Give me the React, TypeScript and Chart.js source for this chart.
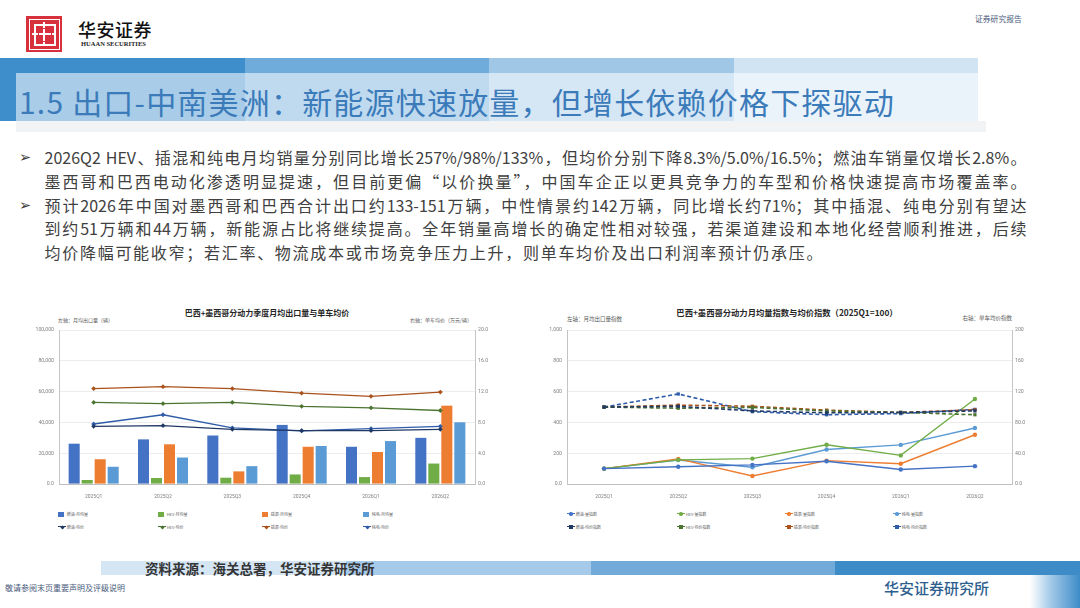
import React, { useEffect, useRef } from 'react';
import { Chart, registerables } from 'chart.js';

Chart.register(...registerables);

// ---------------- data ----------------
const categories = ['2025Q1', '2025Q2', '2025Q3', '2025Q4', '2026Q1', '2026Q2'];

// left chart: monthly average export volume (辆)
const iceVolume = [26200, 29000, 31500, 38400, 24200, 30000];
const hevVolume = [2600, 3900, 4100, 6200, 4500, 13300];
const phevVolume = [16100, 25800, 8200, 24200, 20800, 50900];
const bevVolume = [11200, 17200, 11600, 24700, 27900, 40100];
// left chart: average price per vehicle (万元/辆)
const icePrice = [7.5, 7.6, 7.1, 6.95, 6.95, 7.1];
const hevPrice = [10.6, 10.45, 10.6, 10.1, 9.9, 9.55];
const phevPrice = [12.4, 12.65, 12.4, 11.8, 11.4, 11.95];
const bevPrice = [7.8, 9.0, 7.3, 6.9, 7.2, 7.5];

const leftTicksL = ['0.0', '20,000', '40,000', '60,000', '80,000', '100,000'];
const leftTicksR = ['0.0', '4.0', '8.0', '12.0', '16.0', '20.0'];
const leftLabels = ['燃油-月均量', 'HEV-月均量', '插混-月均量', '纯电-月均量', '燃油-均价', 'HEV-均价', '插混-均价', '纯电-均价'];

// right chart: indices (2025Q1 = 100)
const iceVolIdx = [100, 112, 124, 148, 94, 116];
const hevVolIdx = [100, 157, 165, 255, 186, 552];
const phevVolIdx = [100, 163, 52, 152, 132, 320];
const bevVolIdx = [100, 156, 109, 224, 254, 364];
const icePriceIdx = [100, 101, 95, 92.5, 93, 95];
const hevPriceIdx = [100, 98.5, 99.5, 95, 93, 90];
const phevPriceIdx = [100, 102.5, 101, 96, 93, 96.5];
const bevPriceIdx = [100, 117, 94, 90, 91.5, 97];

const rightTicksL = ['0.0', '200', '400', '600', '800', '1,000'];
const rightTicksR = ['0.0', '40.0', '80.0', '120', '160', '200'];
const rightLabels = ['燃油-量指数', 'HEV-量指数', '插混-量指数', '纯电-量指数', '燃油-均价指数', 'HEV-均价指数', '插混-均价指数', '纯电-均价指数'];

const bodyLines = [
  '2026Q2 HEV、插混和纯电月均销量分别同比增长257%/98%/133%，但均价分别下降8.3%/5.0%/16.5%；燃油车销量仅增长2.8%。',
  '墨西哥和巴西电动化渗透明显提速，但目前更偏“以价换量”，中国车企正以更具竞争力的车型和价格快速提高市场覆盖率。',
  '预计2026年中国对墨西哥和巴西合计出口约133-151万辆，中性情景约142万辆，同比增长约71%；其中插混、纯电分别有望达',
  '到约51万辆和44万辆，新能源占比将继续提高。全年销量高增长的确定性相对较强，若渠道建设和本地化经营顺利推进，后续',
  '均价降幅可能收窄；若汇率、物流成本或市场竞争压力上升，则单车均价及出口利润率预计仍承压。',
];

// ---------------- styles ----------------
const FONT = '"Noto Sans CJK SC", "Noto Sans", sans-serif';
const TICK_FONT = 'Roboto, "Noto Sans CJK SC", sans-serif';
const C = {
  ice: '#4472C4',
  hev: '#70AD47',
  phev: '#ED7D31',
  bev: '#5B9BD5',
  iceP: '#203864',
  hevP: '#4B7431',
  phevP: '#A9521C',
  bevP: '#2F5CA8',
};
const leftColors = [C.ice, C.hev, C.phev, C.bev, C.iceP, C.hevP, C.phevP, C.bevP];
const rightColors = [C.ice, C.hev, C.phev, C.bev, C.iceP, C.hevP, C.phevP, C.bevP];

const tickCb = (labels: string[], step: number) => (v: any) => labels[Math.round(Number(v) / step)] ?? '';

const tickStyle = { font: { family: TICK_FONT, size: 5.2 }, color: '#808080' };

function baseScales(
  lMax: number, lStep: number, lLabels: string[], lWidth: number,
  rMax: number, rStep: number, rLabels: string[], rWidth: number
): any {
  return {
    x: {
      grid: { display: false, drawTicks: false },
      border: { display: true, color: '#bfbfbf', width: 1 },
      ticks: { ...tickStyle, font: { family: TICK_FONT, size: 5 }, padding: 9.5, maxRotation: 0, autoSkip: false },
      afterFit: (s: any) => { s.height = 21; },
    },
    y: {
      position: 'left',
      min: 0,
      max: lMax,
      ticks: { ...tickStyle, stepSize: lStep, callback: tickCb(lLabels, lStep), padding: 5 },
      grid: { color: '#e8e8e8', lineWidth: 0.8, drawTicks: false },
      border: { display: true, color: '#c4c4c4', width: 1 },
      afterFit: (s: any) => { s.width = lWidth; },
    },
    y1: {
      position: 'right',
      min: 0,
      max: rMax,
      ticks: { ...tickStyle, stepSize: rStep, callback: tickCb(rLabels, rStep), padding: 3 },
      grid: { drawOnChartArea: false, drawTicks: false },
      border: { display: true, color: '#c4c4c4', width: 1 },
      afterFit: (s: any) => { s.width = rWidth; },
    },
  };
}

const commonOptions = {
  responsive: false,
  animation: false as const,
  layout: { padding: { top: 6, left: 0, right: 0, bottom: 0 } },
  plugins: { legend: { display: false }, tooltip: { enabled: false }, title: { display: false } },
};

function LeftChart() {
  const ref = useRef<HTMLCanvasElement>(null);
  useEffect(() => {
    const bar = (label: string, data: number[], color: string) => ({
      type: 'bar' as const, label, data, backgroundColor: color, yAxisID: 'y', order: 2,
      barPercentage: 0.85, categoryPercentage: 0.75,
    });
    const line = (label: string, data: number[], color: string) => ({
      type: 'line' as const, label, data, borderColor: color, backgroundColor: color, yAxisID: 'y1', order: 1,
      borderWidth: 1.3, pointStyle: 'rectRot', pointRadius: 2.4, pointBorderWidth: 0, tension: 0,
    });
    const chart = new Chart(ref.current as HTMLCanvasElement, {
      type: 'bar',
      data: {
        labels: categories,
        datasets: [
          bar(leftLabels[0], iceVolume, leftColors[0]),
          bar(leftLabels[1], hevVolume, leftColors[1]),
          bar(leftLabels[2], phevVolume, leftColors[2]),
          bar(leftLabels[3], bevVolume, leftColors[3]),
          line(leftLabels[4], icePrice, leftColors[4]),
          line(leftLabels[5], hevPrice, leftColors[5]),
          line(leftLabels[6], phevPrice, leftColors[6]),
          line(leftLabels[7], bevPrice, leftColors[7]),
        ] as any,
      },
      options: {
        ...commonOptions,
        scales: baseScales(100000, 20000, leftTicksL, 39, 20, 4, leftTicksR, 25),
      } as any,
    });
    return () => chart.destroy();
  }, []);
  return (
    <canvas ref={ref} width={480} height={183}
      style={{ position: 'absolute', left: 20, top: 322, width: 480, height: 183 }} />
  );
}

function RightChart() {
  const ref = useRef<HTMLCanvasElement>(null);
  useEffect(() => {
    const solid = (label: string, data: number[], color: string) => ({
      type: 'line' as const, label, data, borderColor: color, backgroundColor: color, yAxisID: 'y', order: 2,
      borderWidth: 1.4, pointStyle: 'circle', pointRadius: 2.2, pointBorderWidth: 0, tension: 0,
    });
    const dashed = (label: string, data: number[], color: string) => ({
      type: 'line' as const, label, data, borderColor: color, backgroundColor: color, yAxisID: 'y1', order: 1,
      borderWidth: 1.6, borderDash: [4, 2.5], pointStyle: 'rect', pointRadius: 2.3, pointBorderWidth: 0, tension: 0,
    });
    const chart = new Chart(ref.current as HTMLCanvasElement, {
      type: 'line',
      data: {
        labels: categories,
        datasets: [
          solid(rightLabels[0], iceVolIdx, rightColors[0]),
          solid(rightLabels[1], hevVolIdx, rightColors[1]),
          solid(rightLabels[2], phevVolIdx, rightColors[2]),
          solid(rightLabels[3], bevVolIdx, rightColors[3]),
          dashed(rightLabels[4], icePriceIdx, rightColors[4]),
          dashed(rightLabels[5], hevPriceIdx, rightColors[5]),
          dashed(rightLabels[6], phevPriceIdx, rightColors[6]),
          dashed(rightLabels[7], bevPriceIdx, rightColors[7]),
        ] as any,
      },
      options: {
        ...commonOptions,
        scales: (() => {
          const s = baseScales(1000, 200, rightTicksL, 37, 200, 40, rightTicksR, 28);
          s.x.offset = true;
          return s;
        })(),
      } as any,
    });
    return () => chart.destroy();
  }, []);
  return (
    <canvas ref={ref} width={510} height={183}
      style={{ position: 'absolute', left: 530, top: 322, width: 510, height: 183 }} />
  );
}

type Kind = 'bar' | 'line' | 'dash';
type Shape = 'diamond' | 'circle' | 'square';

function LegendItem({ x, y, label, color, kind, shape }: { x: number; y: number; label: string; color: string; kind: Kind; shape: Shape }) {
  const marker: React.ReactNode[] = [];
  if (kind === 'bar') {
    marker.push(<div key="b" style={{ position: 'absolute', left: x, top: y - 2.5, width: 6, height: 5, background: color }} />);
  } else {
    marker.push(
      <div key="l" style={{
        position: 'absolute', left: x, top: y - 0.7, width: 8, height: 0,
        borderTop: `1.4px ${kind === 'dash' ? 'dashed' : 'solid'} ${color}`,
      }} />
    );
    const sz = shape === 'diamond' ? 3 : 3.4;
    marker.push(
      <div key="p" style={{
        position: 'absolute', left: x + 4 - sz / 2, top: y - sz / 2, width: sz, height: sz, background: color,
        borderRadius: shape === 'circle' ? '50%' : 0,
        transform: shape === 'diamond' ? 'rotate(45deg)' : undefined,
      }} />
    );
  }
  return (
    <>
      {marker}
      <div style={{
        position: 'absolute', left: x + 8.7, top: y - 4, height: 8, lineHeight: '8px',
        fontSize: 4, fontFamily: FONT, color: '#595959', whiteSpace: 'nowrap',
      }}>{label}</div>
    </>
  );
}

function Logo() {
  const w = '#fff';
  return (
    <div style={{ position: 'absolute', left: 26, top: 16, width: 36, height: 36, background: '#D7313E' }}>
      <div style={{ position: 'absolute', left: 2.5, top: 2.5, right: 2.5, bottom: 2.5, border: `1px solid ${w}` }} />
      <div style={{ position: 'absolute', left: 8, top: 8, width: 18, height: 18, border: `2px solid ${w}` }} />
      <div style={{ position: 'absolute', left: 17, top: 6, width: 2, height: 24, background: w }} />
      <div style={{ position: 'absolute', left: 6, top: 17, width: 24, height: 2, background: w }} />
      <div style={{ position: 'absolute', left: 12, top: 12, width: 12, height: 12, border: `1.5px solid #D7313E` }} />
    </div>
  );
}

export default function App() {
  const bandColors = ['#3D8ECB', '#6FABDB', '#A0C7E6', '#D1E4F3'];
  const footColors = ['#D4E5F4', '#A6CAE9', '#72ABDA', '#3D8CC8'];
  const leftCols = [58, 158, 262, 363];
  const rightCols = [567, 677, 785, 893];
  const rowsY = [514, 527];
  const leftKinds: Kind[] = ['bar', 'bar', 'bar', 'bar', 'line', 'line', 'line', 'line'];
  const rightKinds: Kind[] = ['line', 'line', 'line', 'line', 'dash', 'dash', 'dash', 'dash'];
  const rightShapes: Shape[] = ['circle', 'circle', 'circle', 'circle', 'square', 'square', 'square', 'square'];

  return (
    <div style={{
      position: 'absolute', left: 0, top: 0, width: 1080, height: 608, overflow: 'hidden',
      background: '#ffffff', fontFamily: FONT,
    }}>
      {/* header */}
      <Logo />
      <div style={{ position: 'absolute', left: 78, top: 18, fontSize: 18, lineHeight: '22px', fontWeight: 500, color: '#111', fontFamily: FONT, letterSpacing: 0.5 }}>华安证券</div>
      <div style={{ position: 'absolute', left: 81, top: 40, fontSize: 6.5, lineHeight: '8px', color: '#222', fontFamily: '"Liberation Serif", serif', fontWeight: 700, whiteSpace: 'nowrap' }}>HUAAN SECURITIES</div>
      <div style={{ position: 'absolute', left: 975, top: 14, fontSize: 7.8, lineHeight: '10px', color: '#4A5B7C', whiteSpace: 'nowrap' }}>证券研究报告</div>

      {/* title band */}
      {bandColors.map((c, i) => (
        <div key={i} style={{ position: 'absolute', left: i * 244.5, top: 58, width: 244.5, height: 63, background: c }} />
      ))}
      <div style={{ position: 'absolute', left: 16, top: 73, width: 970, height: 48, background: 'rgba(255,255,255,0.56)' }} />
      <div style={{ position: 'absolute', left: 16, top: 121, width: 970, height: 11, background: '#F1F3F5' }} />
      <div style={{
        position: 'absolute', left: 19, top: 79, height: 44, lineHeight: '44px', fontSize: 30, letterSpacing: 1.2,
        color: '#3B7BBA', whiteSpace: 'nowrap',
      }}>1.5 出口-中南美洲：新能源快速放量，但增长依赖价格下探驱动</div>

      {/* bullets */}
      {[0, 2].map((i) => (
        <div key={'b' + i} style={{
          position: 'absolute', left: 19, top: 146.2 + i * 23.7, height: 23.7, lineHeight: '23.7px',
          fontSize: 14.5, color: '#404040', fontFamily: '"DejaVu Sans", sans-serif',
        }}>➢</div>
      ))}
      {bodyLines.map((t, i) => (
        <div key={i} style={{
          position: 'absolute', left: 44.5, top: 146.2 + i * 23.7, width: i === 4 ? 778 : 982, height: 23.7,
          lineHeight: '23.7px', fontSize: 16, color: '#404040',
          textAlign: 'justify', textAlignLast: 'justify' as any,
        }}>{t}</div>
      ))}

      {/* left chart */}
      <div style={{
        position: 'absolute', left: 167, top: 307, width: 200, textAlign: 'center', fontSize: 8, lineHeight: '12px',
        fontWeight: 700, color: '#262626', whiteSpace: 'nowrap',
      }}>巴西+墨西哥分动力季度月均出口量与单车均价</div>
      <div style={{ position: 'absolute', left: 58, top: 315.5, fontSize: 5, lineHeight: '7px', color: '#595959', whiteSpace: 'nowrap' }}>左轴：月均出口量（辆）</div>
      <div style={{ position: 'absolute', left: 372, width: 100, top: 315.5, fontSize: 5, lineHeight: '7px', color: '#595959', whiteSpace: 'nowrap', textAlign: 'right' }}>右轴：单车均价（万元/辆）</div>
      <LeftChart />
      {leftLabels.map((l, i) => (
        <LegendItem key={'ll' + i} x={leftCols[i % 4]} y={rowsY[Math.floor(i / 4)]} label={l}
          color={leftColors[i]} kind={leftKinds[i]} shape="diamond" />
      ))}

      {/* right chart */}
      <div style={{
        position: 'absolute', left: 637, top: 306, width: 300, textAlign: 'center', fontSize: 8.3, lineHeight: '12px',
        fontWeight: 700, color: '#262626', whiteSpace: 'nowrap',
      }}>巴西+墨西哥分动力月均量指数与均价指数（2025Q1=100）</div>
      <div style={{ position: 'absolute', left: 567, top: 315.5, fontSize: 5.5, lineHeight: '7px', color: '#595959', whiteSpace: 'nowrap' }}>左轴：月均出口量指数</div>
      <div style={{ position: 'absolute', left: 912, width: 100, top: 315, fontSize: 5.5, lineHeight: '7px', color: '#595959', whiteSpace: 'nowrap', textAlign: 'right' }}>右轴：单车均价指数</div>
      <RightChart />
      {rightLabels.map((l, i) => (
        <LegendItem key={'rl' + i} x={rightCols[i % 4]} y={rowsY[Math.floor(i / 4)]} label={l}
          color={rightColors[i]} kind={rightKinds[i]} shape={rightShapes[i]} />
      ))}

      {/* footer */}
      {footColors.map((c, i) => (
        <div key={'f' + i} style={{ position: 'absolute', left: 101 + i * 244.75, top: 561, width: 244.75, height: 14, background: c }} />
      ))}
      <div style={{
        position: 'absolute', left: 145, top: 559, height: 18, lineHeight: '18px', fontSize: 13.5, fontWeight: 600,
        color: '#353535', whiteSpace: 'nowrap',
      }}>资料来源：海关总署，华安证券研究所</div>
      <div style={{ position: 'absolute', left: 5, top: 583, fontSize: 8, lineHeight: '10px', color: '#4A5B7C', whiteSpace: 'nowrap' }}>敬请参阅末页重要声明及评级说明</div>
      <div style={{ position: 'absolute', left: 884, top: 578, fontSize: 15, lineHeight: '20px', color: '#2F5F8F', whiteSpace: 'nowrap', fontWeight: 500 }}>华安证券研究所</div>
      <div style={{
        position: 'absolute', left: 1030, top: 575, width: 50, height: 33,
        background: 'linear-gradient(to right, #ffffff 0%, #9CC5E6 45%, #3D8CC8 100%)',
      }} />
    </div>
  );
}
